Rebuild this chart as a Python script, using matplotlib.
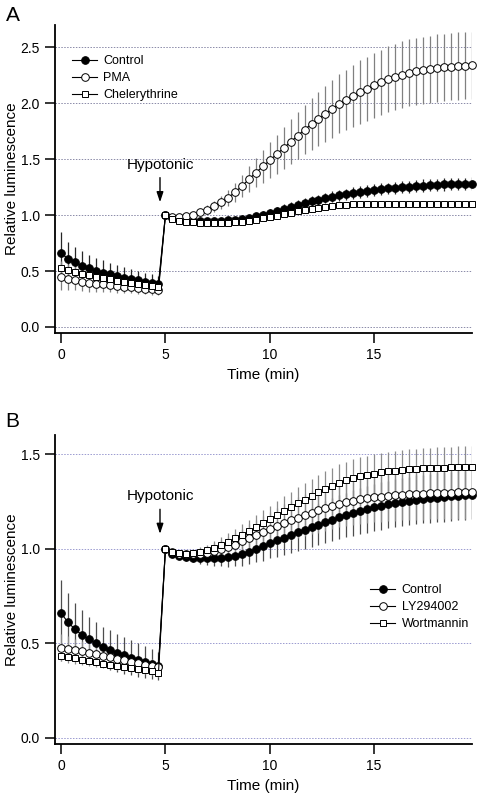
# Two-panel time course of relative luminescence (hypotonic stimulus at 5 min)
import numpy as np
import matplotlib
matplotlib.use('Agg')
import matplotlib.pyplot as plt

plt.rcParams['font.family'] = ['Liberation Sans', 'DejaVu Sans']

# samples every 20 s; 15 before the stimulus, 45 after
t = np.arange(60) / 3.0

# ---- panel A ----
ctrl_a = [0.66, 0.61, 0.578, 0.548, 0.524, 0.503, 0.486, 0.47, 0.455, 0.442, 0.43, 0.418, 0.406, 0.395, 0.385,
          1.0, 0.97, 0.958, 0.95, 0.946, 0.944, 0.943, 0.943, 0.945, 0.952, 0.958, 0.966, 0.975, 0.989, 1.005,
          1.022, 1.039, 1.057, 1.074, 1.091, 1.107, 1.122, 1.137, 1.151, 1.164, 1.176, 1.187, 1.198, 1.207, 1.216,
          1.224, 1.231, 1.238, 1.245, 1.25, 1.255, 1.26, 1.264, 1.268, 1.271, 1.274, 1.277, 1.279, 1.28, 1.281]
ctrl_a_err = [0.19, 0.15, 0.14, 0.13, 0.12, 0.115, 0.11, 0.105, 0.1, 0.095, 0.09, 0.085, 0.08, 0.075, 0.07,
              0.0, 0.01, 0.012, 0.015, 0.017, 0.018, 0.02, 0.021, 0.022, 0.024, 0.025, 0.027, 0.029, 0.031, 0.033,
              0.035, 0.037, 0.039, 0.041, 0.042, 0.044, 0.045, 0.046, 0.047, 0.048, 0.049, 0.05, 0.05, 0.051, 0.051,
              0.052, 0.052, 0.053, 0.053, 0.054, 0.054, 0.054, 0.055, 0.055, 0.055, 0.055, 0.056, 0.056, 0.056, 0.056]
pma_a = [0.45, 0.43, 0.418, 0.406, 0.396, 0.388, 0.38, 0.373, 0.366, 0.36, 0.354, 0.348, 0.342, 0.336, 0.33,
         1.0, 0.985, 0.983, 0.99, 1.005, 1.025, 1.05, 1.08, 1.115, 1.155, 1.205, 1.26, 1.32, 1.38, 1.435,
         1.49, 1.545, 1.6, 1.655, 1.71, 1.765, 1.815, 1.86, 1.905, 1.95, 1.995, 2.03, 2.062, 2.1, 2.13,
         2.16, 2.187, 2.215, 2.237, 2.257, 2.272, 2.287, 2.295, 2.306, 2.315, 2.321, 2.327, 2.333, 2.337, 2.34]
pma_a_err = [0.12, 0.1, 0.09, 0.085, 0.08, 0.075, 0.07, 0.065, 0.06, 0.058, 0.055, 0.052, 0.05, 0.048, 0.045,
             0.0, 0.01, 0.015, 0.02, 0.025, 0.032, 0.04, 0.05, 0.06, 0.072, 0.085, 0.1, 0.115, 0.13, 0.145,
             0.16, 0.175, 0.19, 0.2, 0.21, 0.22, 0.23, 0.24, 0.25, 0.258, 0.265, 0.272, 0.278, 0.283, 0.287,
             0.29, 0.293, 0.295, 0.297, 0.298, 0.299, 0.3, 0.3, 0.3, 0.3, 0.3, 0.3, 0.3, 0.3, 0.3]
chel_a = [0.53, 0.51, 0.492, 0.476, 0.462, 0.449, 0.437, 0.426, 0.415, 0.405, 0.395, 0.386, 0.377, 0.368, 0.355,
          1.0, 0.965, 0.95, 0.94, 0.935, 0.932, 0.93, 0.93, 0.93, 0.931, 0.934, 0.94, 0.948, 0.958, 0.97,
          0.983, 0.996, 1.009, 1.021, 1.033, 1.045, 1.056, 1.066, 1.075, 1.082, 1.088, 1.092, 1.095, 1.097, 1.099,
          1.1, 1.1, 1.1, 1.1, 1.1, 1.1, 1.099, 1.099, 1.098, 1.098, 1.097, 1.097, 1.096, 1.096, 1.095]
chel_a_err = [0.06, 0.055, 0.052, 0.05, 0.048, 0.046, 0.044, 0.042, 0.04, 0.038, 0.036, 0.035, 0.034, 0.033, 0.032,
              0.0, 0.005, 0.007, 0.008, 0.009, 0.01, 0.01, 0.011, 0.011, 0.012, 0.012, 0.013, 0.013, 0.014, 0.014,
              0.015, 0.015, 0.016, 0.016, 0.016, 0.017, 0.017, 0.017, 0.018, 0.018, 0.018, 0.018, 0.019, 0.019, 0.019,
              0.019, 0.019, 0.02, 0.02, 0.02, 0.02, 0.02, 0.02, 0.02, 0.02, 0.02, 0.02, 0.02, 0.02, 0.02]

# ---- panel B ----
ctrl_b = [0.66, 0.612, 0.575, 0.545, 0.522, 0.5, 0.483, 0.465, 0.451, 0.437, 0.425, 0.413, 0.402, 0.392, 0.381,
          1.0, 0.975, 0.963, 0.957, 0.954, 0.952, 0.951, 0.951, 0.953, 0.957, 0.963, 0.972, 0.985, 0.999, 1.014,
          1.03, 1.045, 1.06, 1.075, 1.089, 1.102, 1.115, 1.128, 1.142, 1.155, 1.167, 1.179, 1.19, 1.2, 1.21,
          1.22, 1.228, 1.236, 1.243, 1.249, 1.255, 1.26, 1.264, 1.268, 1.272, 1.275, 1.278, 1.281, 1.284, 1.287]
ctrl_b_err = [0.176, 0.155, 0.138, 0.132, 0.12, 0.112, 0.106, 0.104, 0.1, 0.096, 0.092, 0.088, 0.084, 0.08, 0.076,
              0.0, 0.01, 0.015, 0.02, 0.025, 0.03, 0.035, 0.04, 0.045, 0.05, 0.055, 0.06, 0.065, 0.07, 0.075,
              0.08, 0.085, 0.09, 0.094, 0.098, 0.102, 0.105, 0.108, 0.111, 0.114, 0.116, 0.118, 0.12, 0.122, 0.123,
              0.124, 0.125, 0.126, 0.127, 0.128, 0.128, 0.129, 0.129, 0.13, 0.13, 0.13, 0.13, 0.13, 0.13, 0.13]
ly_b = [0.478, 0.472, 0.465, 0.458, 0.451, 0.444, 0.436, 0.428, 0.42, 0.412, 0.404, 0.396, 0.388, 0.381, 0.374,
        1.0, 0.982, 0.975, 0.972, 0.972, 0.975, 0.98, 0.988, 0.998, 1.01, 1.023, 1.04, 1.058, 1.074, 1.09,
        1.105, 1.12, 1.136, 1.151, 1.165, 1.179, 1.192, 1.204, 1.216, 1.228, 1.238, 1.247, 1.255, 1.262, 1.268,
        1.273, 1.277, 1.281, 1.284, 1.287, 1.289, 1.291, 1.293, 1.295, 1.296, 1.297, 1.298, 1.299, 1.3, 1.3]
ly_b_err = [0.07, 0.065, 0.06, 0.056, 0.052, 0.05, 0.048, 0.046, 0.044, 0.042, 0.04, 0.038, 0.036, 0.035, 0.034,
            0.0, 0.01, 0.015, 0.02, 0.026, 0.032, 0.038, 0.044, 0.05, 0.056, 0.062, 0.068, 0.074, 0.08, 0.086,
            0.091, 0.096, 0.1, 0.104, 0.108, 0.111, 0.114, 0.117, 0.12, 0.122, 0.124, 0.126, 0.128, 0.13, 0.131,
            0.132, 0.133, 0.134, 0.135, 0.136, 0.137, 0.138, 0.138, 0.139, 0.139, 0.14, 0.14, 0.14, 0.14, 0.14]
wort_b = [0.435, 0.428, 0.421, 0.414, 0.407, 0.4, 0.394, 0.388, 0.382, 0.376, 0.37, 0.364, 0.358, 0.352, 0.345,
          1.0, 0.985, 0.977, 0.975, 0.977, 0.983, 0.993, 1.006, 1.021, 1.038, 1.056, 1.075, 1.095, 1.116, 1.137,
          1.158, 1.179, 1.2, 1.221, 1.241, 1.26, 1.278, 1.3, 1.318, 1.335, 1.35, 1.363, 1.374, 1.384, 1.392,
          1.399, 1.405, 1.41, 1.414, 1.418, 1.421, 1.424, 1.426, 1.428, 1.43, 1.431, 1.432, 1.433, 1.434, 1.435]
wort_b_err = [0.03, 0.03, 0.028, 0.028, 0.026, 0.026, 0.025, 0.024, 0.024, 0.023, 0.022, 0.022, 0.021, 0.02, 0.02,
              0.0, 0.008, 0.012, 0.016, 0.02, 0.025, 0.03, 0.035, 0.04, 0.045, 0.05, 0.055, 0.06, 0.064, 0.068,
              0.072, 0.076, 0.079, 0.082, 0.085, 0.088, 0.09, 0.092, 0.094, 0.096, 0.098, 0.099, 0.1, 0.101, 0.102,
              0.103, 0.104, 0.105, 0.106, 0.106, 0.107, 0.107, 0.108, 0.108, 0.109, 0.109, 0.11, 0.11, 0.11, 0.11]

series_a = [('Control', ctrl_a, ctrl_a_err, 'o', 'black', '0.15'),
            ('PMA', pma_a, pma_a_err, 'o', 'white', '0.5'),
            ('Chelerythrine', chel_a, chel_a_err, 's', 'white', '0.5')]
series_b = [('Control', ctrl_b, ctrl_b_err, 'o', 'black', '0.3'),
            ('LY294002', ly_b, ly_b_err, 'o', 'white', '0.55'),
            ('Wortmannin', wort_b, wort_b_err, 's', 'white', '0.55')]

fig = plt.figure(figsize=(4.78, 7.96), dpi=100)
ax_a = fig.add_axes([0.1151, 0.5817, 0.8724, 0.3869])
ax_b = fig.add_axes([0.1151, 0.0653, 0.8724, 0.3882])


def draw(ax, series, ylim, yticks, grid_color):
    for y in yticks:
        ax.axhline(y, color=grid_color, lw=0.7, ls=(0, (1.5, 1.5)), zorder=0)
    handles = []
    for name, vals, err, mk, face, ecol in series:
        ax.errorbar(t, vals, yerr=err, fmt='none', ecolor=ecol, elinewidth=0.9, capsize=0, zorder=1)
        ms = 5.5 if mk == 'o' else 4.4
        h, = ax.plot(t, vals, color='black', lw=0.8, marker=mk, ms=ms, mfc=face, mec='black',
                     mew=0.7, label=name, zorder=2, clip_on=False)
        handles.append(h)
    ax.set_xlim(-0.29, 19.69)
    ax.set_ylim(*ylim)
    ax.set_xticks([0, 5, 10, 15])
    ax.set_yticks(yticks)
    ax.set_yticklabels(['%.1f' % v for v in yticks])
    for side in ['top', 'right']:
        ax.spines[side].set_visible(False)
    for side in ['left', 'bottom']:
        ax.spines[side].set_linewidth(1.3)
    ax.tick_params(direction='out', length=7, width=1.1, labelsize=10, pad=4)
    ax.set_xlabel('Time (min)', fontsize=11, labelpad=4)
    ax.set_ylabel('Relative luminescence', fontsize=11, labelpad=1)
    return handles


h_a = draw(ax_a, series_a, (-0.054, 2.70), [0.0, 0.5, 1.0, 1.5, 2.0, 2.5], '#8a8aa8')
h_b = draw(ax_b, series_b, (-0.032, 1.603), [0.0, 0.5, 1.0, 1.5], '#9a9ad0')

ax_a.legend(handles=h_a, loc='upper left', bbox_to_anchor=(0.02, 0.93), frameon=False,
            fontsize=9, handlelength=2.0, handletextpad=0.5, labelspacing=0.4, borderpad=0.2)
ax_b.legend(handles=h_b, loc='upper left', bbox_to_anchor=(0.735, 0.545), frameon=False,
            fontsize=9, handlelength=2.0, handletextpad=0.5, labelspacing=0.4, borderpad=0.2)

for ax, ytxt, yhead, ytail in [(ax_a, 1.45, 1.115, 1.335), (ax_b, 1.28, 1.08, 1.21)]:
    ax.text(4.74, ytxt, 'Hypotonic', ha='center', va='center', fontsize=11)
    ax.annotate('', xy=(4.74, yhead), xytext=(4.74, ytail),
                arrowprops=dict(arrowstyle='-|>,head_length=0.6,head_width=0.2', color='black', lw=1.0,
                                shrinkA=0, shrinkB=0))

fig.text(0.012, 0.981, 'A', fontsize=15, va='center')
fig.text(0.012, 0.47, 'B', fontsize=15, va='center')

fig.savefig('out.png', dpi=100)
